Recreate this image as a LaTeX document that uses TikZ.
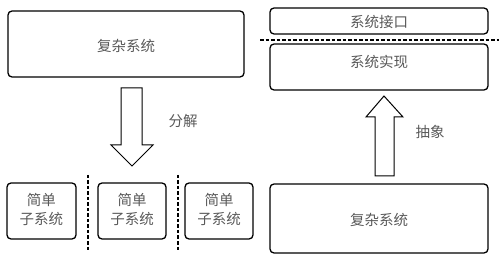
\documentclass[tikz,border=0pt]{standalone}
\usepackage{fontspec}
\setmainfont{Noto Sans CJK SC}
\usetikzlibrary{shapes.arrows}
\begin{document}
\begin{tikzpicture}[x=1pt,y=-1pt,
  box/.style={draw=black,line width=1.3pt,rounded corners=4pt},
  txt/.style={text=black!65,font=\fontsize{14.5}{17}\selectfont,inner sep=0pt},
  arr/.style={draw=black,line width=1pt,fill=white},
  sep/.style={draw=black,line width=1.3pt,dash pattern=on 3.5pt off 2pt}]
\useasboundingbox (0,0) rectangle (499,262);
% left top
\draw[box] (8,11) rectangle (244,77);
\node[txt] (cs1) at (126,46) {复杂系统};
% down arrow
\draw[arr] (121,88) -- (142,88) -- (142,145) -- (153,145) -- (132,166) -- (111,145) -- (121,145) -- cycle;
\node[txt] (fj) at (183,121) {分解};
% small boxes
\draw[box] (7,183) rectangle (76,239);
\draw[box] (98,183) rectangle (166,239);
\draw[box] (185,183) rectangle (253,239);
\foreach \x/\n in {41.5/a,132/b,219/c}{
  \node[txt] (s1\n) at (\x,200) {简单};
  \node[txt] (s2\n) at (\x,219) {子系统};
}
\draw[sep] (88,175) -- (88,251);
\draw[sep] (178,175) -- (178,251);
% right
\draw[box] (270,8) rectangle (488,34);
\node[txt] (jk) at (379,22) {系统接口};
\draw[sep] (260,40) -- (499,40);
\draw[box] (270,44) rectangle (488,90);
\node[txt] (sx) at (379,62) {系统实现};
\draw[arr] (375,176) -- (394,176) -- (394,117) -- (403,117) -- (384,96) -- (366,117) -- (375,117) -- cycle;
\node[txt] (cx) at (430,132) {抽象};
\draw[box] (270,184) rectangle (488,253);
\node[txt] (cs2) at (379,220) {复杂系统};
\end{tikzpicture}
\end{document}
